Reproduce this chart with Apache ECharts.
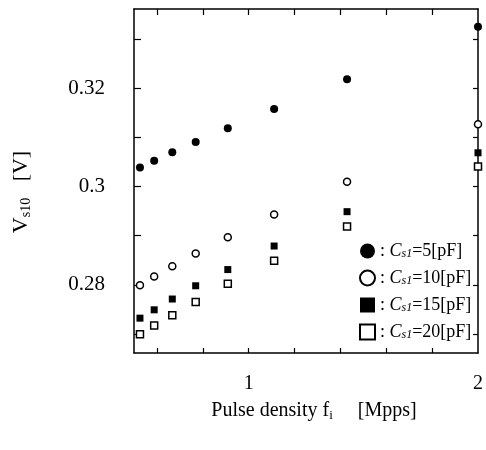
<!DOCTYPE html>
<html>
<head>
<meta charset="utf-8">
<script src="https://cdn.jsdelivr.net/npm/echarts@6/dist/echarts.min.js"></script>
<style>
  html, body { margin: 0; padding: 0; background: #fff; }
  #chart { width: 486px; height: 450px; }
</style>
</head>
<body>
<div id="chart"></div>
<script>
// pulse density f_i [Mpps]
const pulseDensity = [0.526, 0.588, 0.667, 0.769, 0.909, 1.111, 1.429, 2.0];
// Vs10 [V] for each Cs1
const vs5pF = [0.3039, 0.3053, 0.3070, 0.3091, 0.3119, 0.3158, 0.3219, 0.3326];
const vs10pF = [0.2799, 0.2817, 0.2838, 0.2864, 0.2897, 0.2943, 0.3010, 0.3127];
const vs15pF = [0.2732, 0.2749, 0.2771, 0.2798, 0.2831, 0.2879, 0.2949, 0.3069];
const vs20pF = [0.2699, 0.2717, 0.2738, 0.2765, 0.2802, 0.2849, 0.2919, 0.3041];

const seriesNames = ['5', '10', '15', '20'];
const xTicks = [0.6, 0.8, 1, 1.2, 1.4, 1.6, 1.8];
const xLabels = [1, 2];
const yTicks = [0.27, 0.28, 0.29, 0.30, 0.31, 0.32, 0.33];
const yLabels = [0.28, 0.30, 0.32];

const serif = 'Liberation Serif';
const toPoints = (ys) => pulseDensity.map((x, i) => [x, ys[i]]);

const axisLine = { show: true, onZero: false, lineStyle: { color: '#000', width: 1.5 } };
const tick = (values, len) => ({
  show: true, inside: true, length: len,
  customValues: values,
  lineStyle: { color: '#000', width: 1.2 }
});

const makeSeries = (name, ys, symbol, size, filled) => ({
  name: name,
  type: 'scatter',
  xAxisIndex: 0,
  yAxisIndex: 0,
  symbol: symbol,
  symbolSize: size,
  data: toPoints(ys),
  itemStyle: filled
    ? { color: '#000', opacity: 1 }
    : { color: '#fff', borderColor: '#000', borderWidth: 1.5, opacity: 1 }
});

const initChart = () => {
  const chart = echarts.init(document.getElementById('chart'));
  chart.setOption({
    animation: false,
    grid: { left: 134, right: 5, top: 9, bottom: 97 },
    xAxis: [
      {
        type: 'value', min: 0.5, max: 2, position: 'bottom',
        axisLine: axisLine,
        axisTick: tick(xTicks, 5),
        axisLabel: {
          customValues: xLabels, margin: 21, color: '#000',
          fontFamily: serif, fontSize: 20
        },
        splitLine: { show: false }
      },
      {
        type: 'value', min: 0.5, max: 2, position: 'top',
        axisLine: axisLine,
        axisTick: tick(xTicks, 6),
        axisLabel: { show: false },
        splitLine: { show: false }
      }
    ],
    yAxis: [
      {
        type: 'value', min: 0.2661, max: 0.3362, position: 'left',
        axisLine: axisLine,
        axisTick: tick(yTicks, 7),
        axisLabel: {
          customValues: yLabels, margin: 29, color: '#000',
          fontFamily: serif, fontSize: 21,
          formatter: (v) => String(+v.toFixed(2))
        },
        splitLine: { show: false }
      },
      {
        type: 'value', min: 0.2661, max: 0.3362, position: 'right',
        axisLine: axisLine,
        axisTick: tick(yTicks, 5),
        axisLabel: { show: false },
        splitLine: { show: false }
      }
    ],
    legend: {
      orient: 'vertical',
      left: 359, top: 242,
      padding: 0,
      itemWidth: 15, itemHeight: 15,
      itemGap: 9,
      formatter: (name) => ': {i|C}{s|s1}{t|=' + name + '[pF]}',
      textStyle: {
        color: '#000', fontFamily: serif, fontSize: 18,
        rich: {
          i: { fontFamily: serif, fontStyle: 'italic', fontSize: 18, color: '#000' },
          s: { fontFamily: serif, fontStyle: 'italic', fontSize: 12, color: '#000',
               verticalAlign: 'bottom', lineHeight: 12 },
          t: { fontFamily: serif, fontSize: 18, color: '#000' }
        }
      },
      data: seriesNames
    },
    graphic: [
      {
        type: 'text', x: 21, y: 192, rotation: Math.PI / 2,
        style: {
          text: '{v|V}{s|s10}{v|   [V]}',
          align: 'center', verticalAlign: 'middle',
          rich: {
            v: { fontFamily: serif, fontSize: 22, lineHeight: 24, fill: '#000' },
            s: { fontFamily: serif, fontSize: 14, lineHeight: 14, fill: '#000', verticalAlign: 'bottom' }
          }
        }
      },
      {
        type: 'text', x: 314, y: 411,
        style: {
          text: '{v|Pulse density f}{s|i}{v|     [Mpps]}',
          align: 'center', verticalAlign: 'middle',
          rich: {
            v: { fontFamily: serif, fontSize: 20, lineHeight: 22, fill: '#000' },
            s: { fontFamily: serif, fontSize: 13, lineHeight: 13, fill: '#000', verticalAlign: 'bottom' }
          }
        }
      }
    ],
    series: [
      makeSeries('5', vs5pF, 'circle', 8, true),
      makeSeries('10', vs10pF, 'circle', 7, false),
      makeSeries('15', vs15pF, 'rect', 7, true),
      makeSeries('20', vs20pF, 'rect', 7, false)
    ]
  });
};

window.addEventListener('load', () => {
  initChart();
});
</script>
</body>
</html>
